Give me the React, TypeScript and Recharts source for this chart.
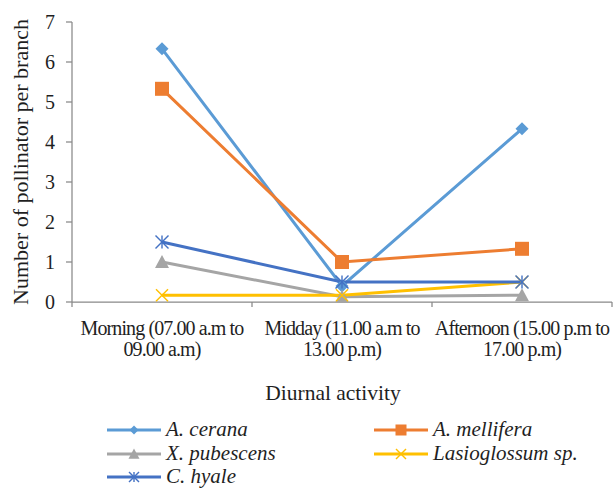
import React from 'react';
import { LineChart, Line, XAxis, YAxis } from 'recharts';

const categoryLines: string[][] = [
  ['Morning (07.00 a.m to', '09.00 a.m)'],
  ['Midday (11.00 a.m to', '13.00 p.m)'],
  ['Afternoon (15.00 p.m to', '17.00 p.m)'],
];
const aCerana = [6.33, 0.4, 4.33];
const aMellifera = [5.33, 1.0, 1.33];
const xPubescens = [1.0, 0.13, 0.17];
const lasioglossum = [0.17, 0.17, 0.5];
const cHyale = [1.5, 0.5, 0.5];
const yTicks = [0, 1, 2, 3, 4, 5, 6, 7];

const FONT = 'Liberation Serif';
const AXIS = '#898989';
const TEXT = '#1f1f1f';

type MarkerKind = 'diamond' | 'square' | 'triangle' | 'x' | 'asterisk';

const series: { key: string; name: string; color: string; marker: MarkerKind; values: number[] }[] = [
  { key: 'cerana', name: 'A. cerana', color: '#5B9BD5', marker: 'diamond', values: aCerana },
  { key: 'mellifera', name: 'A. mellifera', color: '#ED7D31', marker: 'square', values: aMellifera },
  { key: 'pubescens', name: 'X. pubescens', color: '#A5A5A5', marker: 'triangle', values: xPubescens },
  { key: 'lasio', name: 'Lasioglossum sp.', color: '#FFC000', marker: 'x', values: lasioglossum },
  { key: 'hyale', name: 'C. hyale', color: '#4472C4', marker: 'asterisk', values: cHyale },
];

const data = categoryLines.map((_, i) => {
  const row: Record<string, number> = { pos: i + 0.5 };
  series.forEach((s) => {
    row[s.key] = s.values[i];
  });
  return row;
});

const xTicks: number[] = [];
for (let i = 0; i <= categoryLines.length; i++) {
  xTicks.push(i);
  if (i < categoryLines.length) xTicks.push(i + 0.5);
}

function Marker({ kind, cx, cy, color, s }: { kind: MarkerKind; cx: number; cy: number; color: string; s: number }) {
  const h = s / 2;
  switch (kind) {
    case 'diamond':
      return <polygon points={`${cx},${cy - h} ${cx + h},${cy} ${cx},${cy + h} ${cx - h},${cy}`} fill={color} />;
    case 'square':
      return <rect x={cx - h} y={cy - h} width={s} height={s} fill={color} />;
    case 'triangle':
      return <polygon points={`${cx},${cy - h} ${cx + h},${cy + h * 0.85} ${cx - h},${cy + h * 0.85}`} fill={color} />;
    case 'x':
      return (
        <g stroke={color} strokeWidth={1.4}>
          <line x1={cx - h} y1={cy - h} x2={cx + h} y2={cy + h} />
          <line x1={cx - h} y1={cy + h} x2={cx + h} y2={cy - h} />
        </g>
      );
    case 'asterisk':
      return (
        <g stroke={color} strokeWidth={1.4}>
          <line x1={cx - h} y1={cy - h} x2={cx + h} y2={cy + h} />
          <line x1={cx - h} y1={cy + h} x2={cx + h} y2={cy - h} />
          <line x1={cx} y1={cy - h} x2={cx} y2={cy + h} />
        </g>
      );
  }
  return null;
}

const markerSize: Record<MarkerKind, number> = { diamond: 13, square: 14, triangle: 14, x: 12, asterisk: 13 };
const legendMarkerSize: Record<MarkerKind, number> = { diamond: 9, square: 11, triangle: 11, x: 10, asterisk: 10 };

function XTick(props: any) {
  const { x, y, payload } = props;
  const v = payload.value as number;
  if (Number.isInteger(v)) {
    return <line x1={x} x2={x} y1={y} y2={y + 5} stroke={AXIS} strokeWidth={1.25} />;
  }
  const lines = categoryLines[Math.floor(v)];
  return (
    <text x={x} y={y} textAnchor="middle" fontFamily={FONT} fontSize={20} fill={TEXT} letterSpacing={-0.9}>
      <tspan x={x} dy={33}>{lines[0]}</tspan>
      <tspan x={x} dy={21}>{lines[1]}</tspan>
    </text>
  );
}

function Legend() {
  const cols = [107, 374];
  const rows = [430, 454, 477];
  return (
    <svg width={613} height={489} style={{ position: 'absolute', left: 0, top: 0, pointerEvents: 'none' }}>
      {series.map((s, i) => {
        const x0 = cols[i % 2];
        const y = rows[Math.floor(i / 2)];
        return (
          <g key={s.key}>
            <line x1={x0} x2={x0 + 54} y1={y} y2={y} stroke={s.color} strokeWidth={3} />
            <Marker kind={s.marker} cx={x0 + 27} cy={y} color={s.color} s={legendMarkerSize[s.marker]} />
            <text x={x0 + 59} y={y + 6} fontFamily={FONT} fontSize={21} fontStyle="italic" fill={TEXT}>
              {s.name}
            </text>
          </g>
        );
      })}
    </svg>
  );
}

export default function App() {
  return (
    <div style={{ position: 'absolute', left: 0, top: 0, width: 613, height: 489, background: '#fff' }}>
      <LineChart width={613} height={489} data={data} margin={{ top: 22, right: 1, left: 0, bottom: 77 }}>
        <XAxis
          dataKey="pos"
          type="number"
          domain={[0, categoryLines.length]}
          ticks={xTicks}
          interval={0}
          tickSize={0}
          tickMargin={0}
          tickLine={false}
          axisLine={{ stroke: AXIS, strokeWidth: 1.25 }}
          height={110}
          tick={<XTick />}
          label={{
            content: () => (
              <text x={333} y={400} textAnchor="middle" fontFamily={FONT} fontSize={21.5} fill={TEXT}>
                Diurnal activity
              </text>
            ),
          }}
        />
        <YAxis
          domain={[0, 7]}
          ticks={yTicks}
          interval={0}
          width={72}
          tickSize={6}
          tickMargin={11}
          axisLine={{ stroke: AXIS, strokeWidth: 1.25 }}
          tickLine={{ stroke: AXIS, strokeWidth: 1.25 }}
          tick={{ fontFamily: FONT, fontSize: 20, fill: TEXT }}
          label={{
            content: () => (
              <text
                x={0}
                y={0}
                transform="translate(28,162) rotate(-90)"
                textAnchor="middle"
                fontFamily={FONT}
                fontSize={22}
                fill={TEXT}
              >
                Number of pollinator per branch
              </text>
            ),
          }}
        />
        {series.map((s) => (
          <Line
            key={s.key}
            dataKey={s.key}
            name={s.name}
            stroke={s.color}
            strokeWidth={3}
            isAnimationActive={false}
            dot={(p: any) => (
              <Marker key={`${s.key}-${p.index}`} kind={s.marker} cx={p.cx} cy={p.cy} color={s.color} s={markerSize[s.marker]} />
            )}
            activeDot={false}
          />
        ))}
      </LineChart>
      <Legend />
    </div>
  );
}
